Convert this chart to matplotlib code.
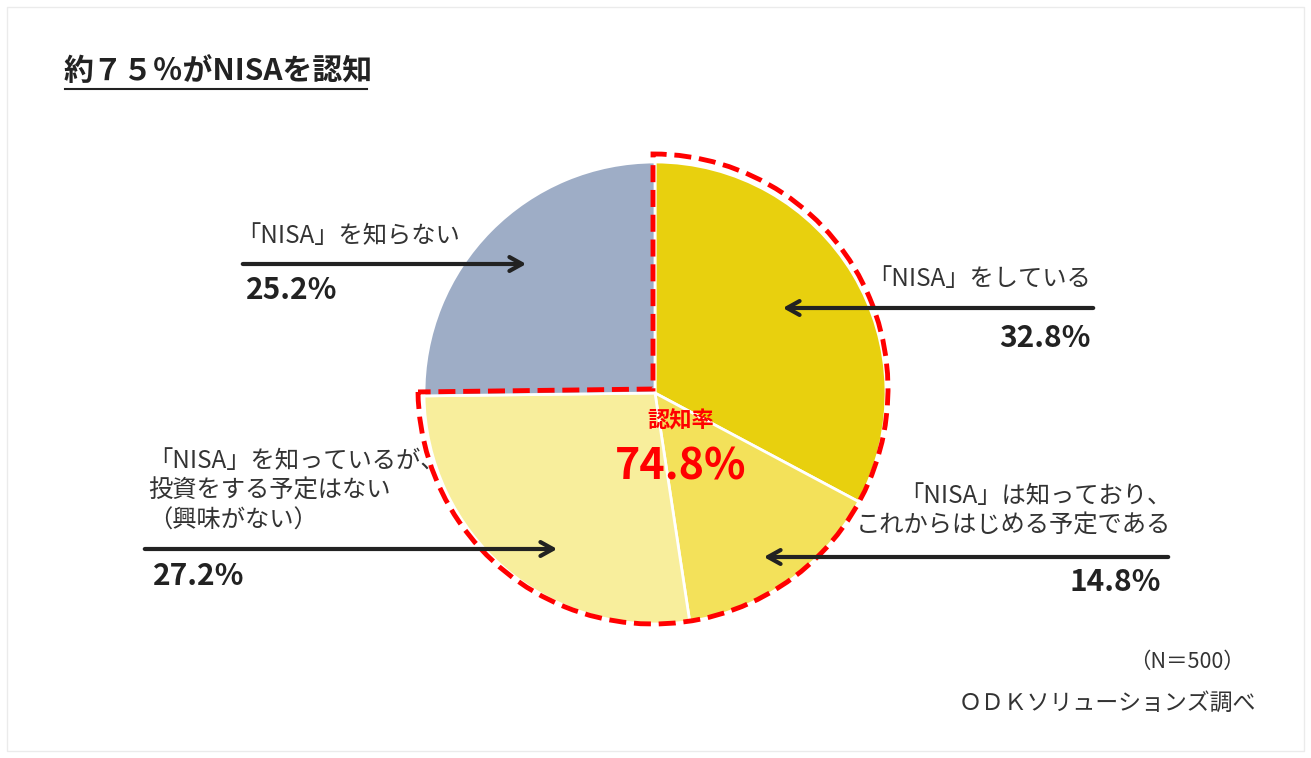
import matplotlib
matplotlib.use("Agg")
import matplotlib.pyplot as plt
from matplotlib.patches import Wedge, Rectangle

plt.rcParams['font.family'] = ['Noto Sans CJK JP', 'DejaVu Sans']

# ---- data ----
categories = ["「NISA」をしている",
              "「NISA」は知っており、\nこれからはじめる予定である",
              "「NISA」を知っているが、\n投資をする予定はない\n（興味がない）",
              "「NISA」を知らない"]
values = [32.8, 14.8, 27.2, 25.2]
value_labels = ["32.8%", "14.8%", "27.2%", "25.2%"]
colors = ["#E8D00E", "#F3E15A", "#F8EE9C", "#9EADC6"]
aware_label = "認知率"
aware_value = "74.8%"
title = "約７５％がNISAを認知"
note_n = "（N＝500）"
source = "ＯＤＫソリューションズ調べ"

W, H = 1311, 758
fig = plt.figure(figsize=(W / 100, H / 100), dpi=100)
ax = fig.add_axes([0, 0, 1, 1])

def Y(p):
    return H - p

cx, cy, r = 655, Y(393), 231
ax.pie(values, colors=colors, startangle=90, counterclock=False,
       center=(cx, cy), radius=r,
       wedgeprops=dict(edgecolor="white", linewidth=2))
ax.set_xlim(0, W)
ax.set_ylim(0, H)
ax.set_aspect('equal')
ax.axis('off')

# light frame
ax.add_patch(Rectangle((7, Y(751)), 1297, 744, fill=False, ec="#ebebeb", lw=1))

# dashed outline around aware share
aware = sum(values[:3])
theta_end = 90
theta_start = 90 - aware / 100 * 360
ax.add_patch(Wedge((653, Y(389)), 235, theta_start, theta_end, fill=False,
                   ec="#FF0000", lw=3.5, linestyle=(0, (3.5, 1.6)), zorder=5))

# title
ax.text(64, Y(71), title, fontsize=21.5, fontweight='bold', color="#222222",
        ha='left', va='center')
ax.plot([65, 367], [Y(89), Y(89)], color="#222222", lw=1.5)

# center text
ax.text(681, Y(421), aware_label, fontsize=16, fontweight='bold', color="#FF0000",
        ha='center', va='center', zorder=6)
ax.text(681, Y(466), aware_value, fontsize=31, fontweight='bold', color="#FF0000",
        ha='center', va='center', zorder=6)

arrow_kw = dict(arrowstyle="->,head_length=0.9,head_width=0.5", color="#222222", lw=3)
txt_col = "#333333"
val_col = "#222222"
lab_fs = 17.5
val_fs = 21.5

# 32.8%
ax.annotate("", xy=(780, Y(308)), xytext=(1096, Y(308)), arrowprops=arrow_kw, zorder=7)
ax.text(1091, Y(279), categories[0], fontsize=lab_fs, color=txt_col, ha='right', va='center')
ax.text(1091, Y(338), value_labels[0], fontsize=val_fs, fontweight='bold', color=val_col,
        ha='right', va='center')

# 14.8%
ax.annotate("", xy=(761, Y(557)), xytext=(1171, Y(557)), arrowprops=arrow_kw, zorder=7)
ax.text(1171, Y(511), categories[1], fontsize=lab_fs, color=txt_col, ha='right', va='center',
        linespacing=1.18)
ax.text(1161, Y(582), value_labels[1], fontsize=val_fs, fontweight='bold', color=val_col,
        ha='right', va='center')

# 27.2%
ax.annotate("", xy=(560, Y(549)), xytext=(142, Y(549)), arrowprops=arrow_kw, zorder=7)
ax.text(148, Y(491), categories[2], fontsize=lab_fs, color=txt_col, ha='left', va='center',
        linespacing=1.18)
ax.text(153, Y(576), value_labels[2], fontsize=val_fs, fontweight='bold', color=val_col,
        ha='left', va='center')

# 25.2%
ax.annotate("", xy=(529, Y(264)), xytext=(240, Y(264)), arrowprops=arrow_kw, zorder=7)
ax.text(236, Y(236), categories[3], fontsize=lab_fs, color=txt_col, ha='left', va='center')
ax.text(246, Y(290), value_labels[3], fontsize=val_fs, fontweight='bold', color=val_col,
        ha='left', va='center')

# notes
ax.text(1245, Y(662), note_n, fontsize=15.5, color=txt_col, ha='right', va='center')
ax.text(1256, Y(703), source, fontsize=16.5, color=txt_col, ha='right', va='center')

fig.savefig("out.png", dpi=100)
